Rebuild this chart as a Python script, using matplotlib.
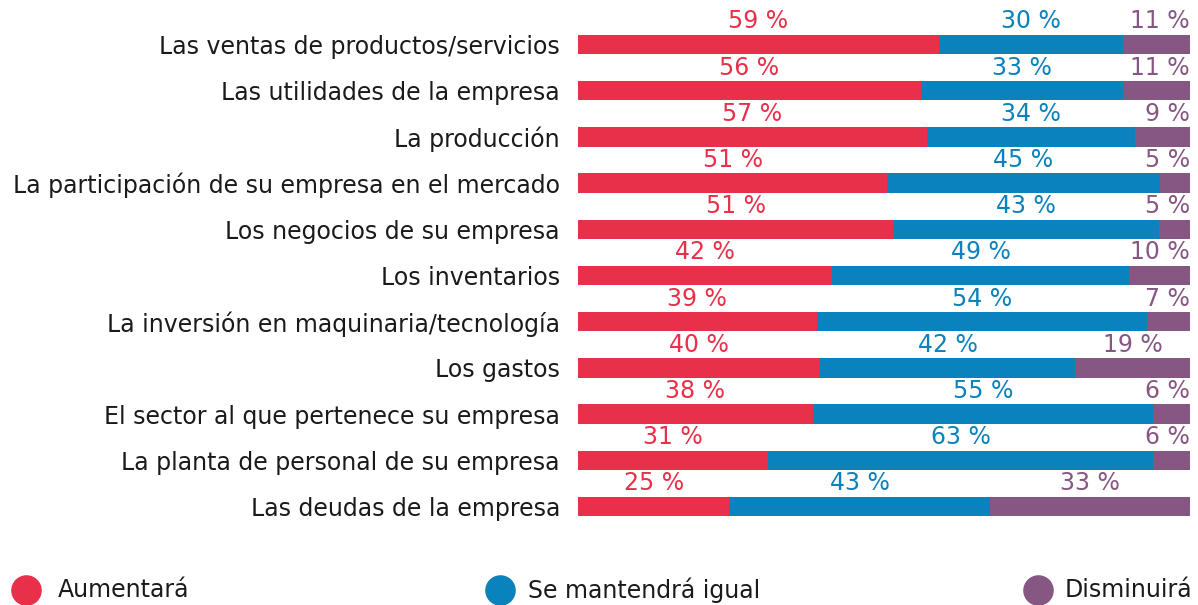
import matplotlib
matplotlib.use("Agg")
import matplotlib.pyplot as plt
from matplotlib.lines import Line2D
import numpy as np
from matplotlib import font_manager

categories = [
    "Las ventas de productos/servicios",
    "Las utilidades de la empresa",
    "La producción",
    "La participación de su empresa en el mercado",
    "Los negocios de su empresa",
    "Los inventarios",
    "La inversión en maquinaria/tecnología",
    "Los gastos",
    "El sector al que pertenece su empresa",
    "La planta de personal de su empresa",
    "Las deudas de la empresa",
]
aumentara = [59, 56, 57, 51, 51, 42, 39, 40, 38, 31, 25]
igual = [30, 33, 34, 45, 43, 49, 54, 42, 55, 63, 43]
disminuira = [11, 11, 9, 5, 5, 10, 7, 19, 6, 6, 33]
series_names = ["Aumentará", "Se mantendrá igual", "Disminuirá"]
colors = ["#E8304A", "#0A82BC", "#875784"]

names = {f.name for f in font_manager.fontManager.ttflist}
fam = "Liberation Sans Narrow" if "Liberation Sans Narrow" in names else "DejaVu Sans"
plt.rcParams["font.family"] = [fam, "DejaVu Sans"]

W, H = 1198, 605
fig = plt.figure(figsize=(W / 100, H / 100), dpi=100)
ax_left, ax_right = 578, 1190
ax_top, ax_bot = 0, 530
ax = fig.add_axes([ax_left / W, 1 - ax_bot / H, (ax_right - ax_left) / W, (ax_bot - ax_top) / H])

vals = np.array([aumentara, igual, disminuira], dtype=float)
totals = vals.sum(axis=0)
fracs = vals / totals
y = np.arange(len(categories))
bh = 0.42
left = np.zeros(len(categories))
fs = 17
for k in range(3):
    ax.barh(y, fracs[k], left=left, height=bh, color=colors[k], linewidth=0)
    for i in range(len(categories)):
        cx = left[i] + fracs[k][i] / 2
        ha = "center"
        if k == 2 and fracs[k][i] < 0.13:
            cx = 1.0
            ha = "right"
        ax.text(cx, y[i] - bh / 2 - 0.03, f"{vals[k][i]:.0f} %", ha=ha, va="bottom",
                color=colors[k], fontsize=fs)
    left = left + fracs[k]

px = 46.2
ax.set_ylim((ax_bot - 44.5) / px, (ax_top - 44.5) / px)
ax.set_xlim(0, 1)
ax.set_yticks(y)
ax.set_yticklabels(categories, fontsize=fs, color="#1a1a1a")
ax.tick_params(axis="y", length=0, pad=13)
ax.set_xticks([])
for s in ax.spines.values():
    s.set_visible(False)

# legend
leg_x = [26, 500, 1038]
leg_tx = [58, 528, 1065]
for k in range(3):
    fig.add_artist(Line2D([leg_x[k] / W], [1 - 590 / H], marker="o", markersize=21,
                          color=colors[k], linestyle="none", transform=fig.transFigure))
    fig.text(leg_tx[k] / W, 1 - 590 / H, series_names[k], fontsize=fs,
             va="center", ha="left", color="#1a1a1a")

fig.savefig("out.png", dpi=100)
